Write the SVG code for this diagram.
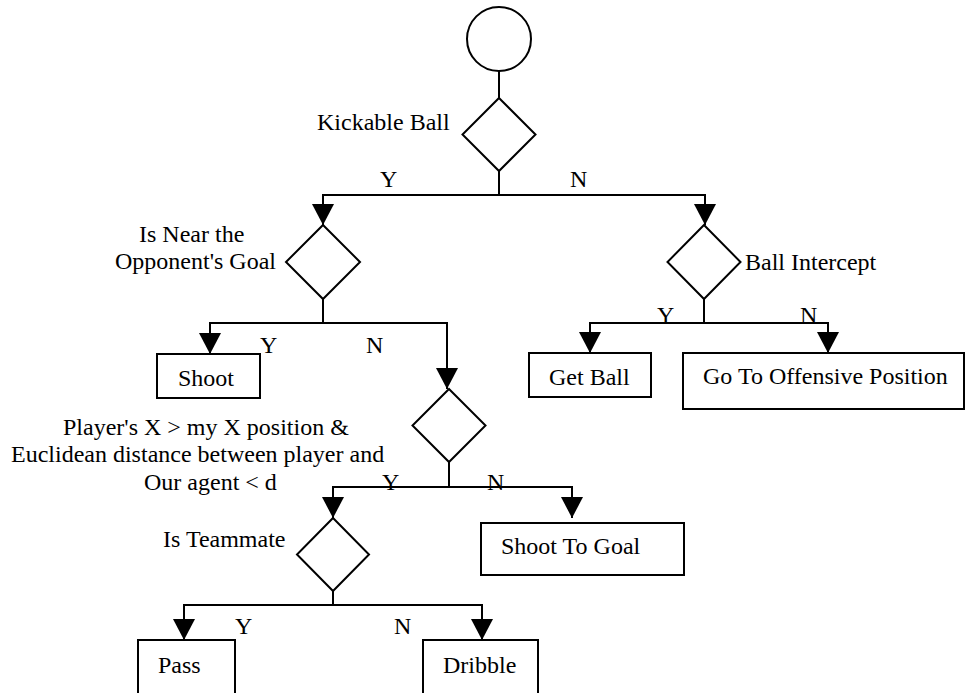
<svg xmlns="http://www.w3.org/2000/svg" width="966" height="693" viewBox="0 0 966 693">
<style>
.s{fill:#fff;stroke:#000;stroke-width:2}
.c{fill:none;stroke:#000;stroke-width:2}
text{font-family:"Liberation Serif","Times New Roman",serif;font-size:24px;fill:#000}
</style>
<defs>
<marker id="ah" markerUnits="userSpaceOnUse" markerWidth="22" markerHeight="24" viewBox="0 -12 22 24" refX="21" refY="0" orient="auto">
<path d="M0,-11 L21,0 L0,11 Z" fill="#000"/>
</marker>
</defs>
<rect width="966" height="693" fill="#fff"/>
<g id="connectors">
<path class="c" d="M499,71 V98"/>
<path class="c" d="M499,171 V195 H323 V225" marker-end="url(#ah)"/>
<path class="c" d="M499,195 H705 V225" marker-end="url(#ah)"/>
<path class="c" d="M323,299 V323 H210 V354" marker-end="url(#ah)"/>
<path class="c" d="M323,323 H447 V389" marker-end="url(#ah)"/>
<path class="c" d="M704,299 V323 H590 V353" marker-end="url(#ah)"/>
<path class="c" d="M704,323 H828 V353" marker-end="url(#ah)"/>
<path class="c" d="M449,462 V487 H333 V518" marker-end="url(#ah)"/>
<path class="c" d="M449,487 H572 V518" marker-end="url(#ah)"/>
<path class="c" d="M333,591 V605 H184 V640" marker-end="url(#ah)"/>
<path class="c" d="M333,605 H482 V640" marker-end="url(#ah)"/>
<text x="380" y="187">Y</text>
<text x="570" y="187">N</text>
<text x="260" y="353">Y</text>
<text x="366" y="353">N</text>
<text x="657" y="323">Y</text>
<text x="800" y="323">N</text>
<text x="382" y="490">Y</text>
<text x="487" y="490">N</text>
<text x="235" y="634">Y</text>
<text x="394" y="634">N</text>
</g>
<g id="start"><circle class="s" cx="499" cy="39" r="32"/></g>
<g id="kickable">
<polygon class="s" points="499,98 535.5,134.5 499,171 462.5,134.5"/>
<text x="317" y="130">Kickable Ball</text>
</g>
<g id="nearGoal">
<polygon class="s" points="323,225 360,262 323,299 286,262"/>
<text x="139" y="242">Is Near the</text>
<text x="115" y="269">Opponent's Goal</text>
</g>
<g id="intercept">
<polygon class="s" points="704,225 740.5,262 704,299 667.5,262"/>
<text x="745" y="270">Ball Intercept</text>
</g>
<g id="shoot">
<rect class="s" x="157" y="354" width="103" height="44"/>
<text x="178" y="386">Shoot</text>
</g>
<g id="getBall">
<rect class="s" x="529" y="353" width="122" height="44"/>
<text x="549" y="385">Get Ball</text>
</g>
<g id="offensive">
<rect class="s" x="683" y="353" width="281" height="56"/>
<text x="703" y="384">Go To Offensive Position</text>
</g>
<g id="playerCheck">
<polygon class="s" points="449,389 485.5,425.5 449,462 412.5,425.5"/>
<text x="63" y="435">Player's X &gt; my X position &amp;</text>
<text x="11" y="462">Euclidean distance between player and</text>
<text x="144" y="490">Our agent &lt; d</text>
</g>
<g id="shootGoal">
<rect class="s" x="481" y="523" width="203" height="52"/>
<text x="501" y="554">Shoot To Goal</text>
</g>
<g id="teammate">
<polygon class="s" points="333,518 369,554.5 333,591 297,554.5"/>
<text x="163" y="547">Is Teammate</text>
</g>
<g id="pass">
<rect class="s" x="138" y="640" width="97" height="70"/>
<text x="158" y="673">Pass</text>
</g>
<g id="dribble">
<rect class="s" x="423" y="640" width="115" height="70"/>
<text x="443" y="673">Dribble</text>
</g>
</svg>
